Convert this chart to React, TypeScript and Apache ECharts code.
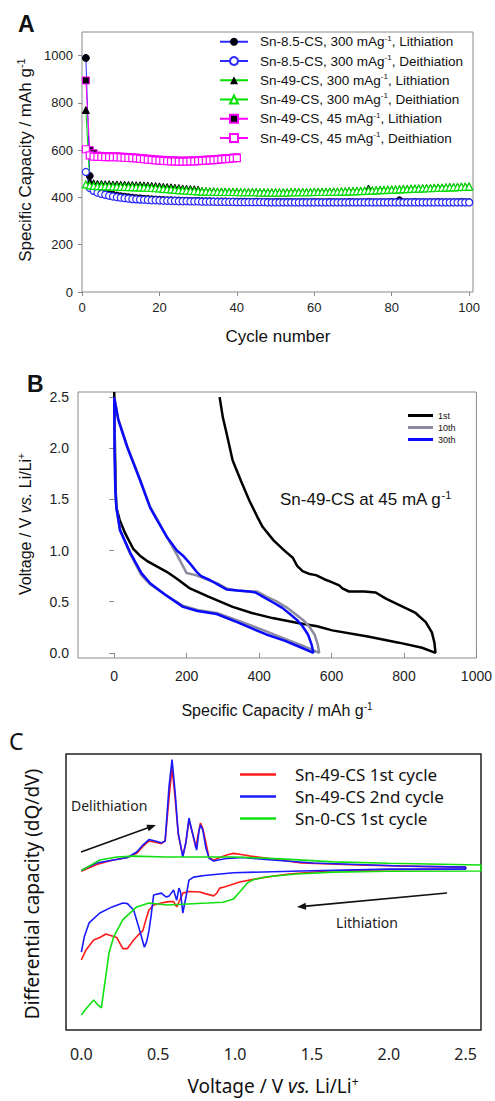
import React, { useEffect, useRef } from 'react';
import * as echarts from 'echarts';

// ---------- Panel A: cycling data (cycle index = position + 1) ----------
const aXTicks = [0, 20, 40, 60, 80, 100];
const aYTicks = [0, 200, 400, 600, 800, 1000];

const sn85Lith = [
  990, 491, 442, 430, 423, 418, 414, 411, 408, 405,
  403, 401, 399, 397, 396, 394, 393, 392, 391, 390,
  389, 388, 388, 387, 387, 386, 386, 385, 385, 385,
  384, 384, 384, 383, 383, 383, 383, 382, 382, 382,
  382, 382, 381, 381, 382, 381, 381, 381, 380, 381,
  381, 380, 381, 381, 380, 380, 381, 380, 380, 381,
  380, 380, 380, 381, 380, 380, 380, 380, 381, 380,
  380, 380, 380, 381, 380, 380, 380, 380, 380, 381,
  380, 388, 380, 380, 380, 381, 380, 380, 380, 380,
  380, 381, 380, 380, 380, 380, 380, 381, 380, 380,
];
const sn85Deli = [
  508, 440, 428, 420, 415, 411, 407, 404, 401, 399,
  397, 395, 393, 392, 391, 390, 389, 388, 388, 387,
  386, 386, 385, 385, 384, 384, 384, 383, 383, 383,
  382, 382, 382, 382, 381, 381, 381, 381, 381, 380,
  380, 380, 380, 380, 380, 380, 380, 379, 379, 379,
  379, 379, 379, 379, 379, 379, 379, 379, 379, 379,
  379, 379, 379, 379, 379, 379, 379, 379, 379, 379,
  379, 379, 379, 379, 379, 379, 379, 379, 379, 379,
  379, 379, 379, 379, 379, 379, 379, 379, 379, 379,
  379, 379, 379, 379, 379, 379, 379, 379, 379, 379,
];
const sn49Lith300 = [
  770, 465, 460, 458, 457, 456, 456, 455, 455, 454,
  454, 453, 453, 452, 452, 451, 450, 449, 448, 447,
  445, 444, 443, 441, 440, 438, 437, 436, 435, 433,
  428, 427, 426, 426, 425, 425, 425, 424, 424, 424,
  423, 423, 423, 423, 423, 422, 422, 422, 422, 422,
  422, 422, 422, 423, 423, 423, 423, 423, 423, 424,
  424, 424, 424, 425, 425, 425, 426, 426, 427, 427,
  428, 428, 429, 438, 430, 431, 432, 432, 433, 434,
  434, 435, 436, 436, 437, 438, 438, 439, 440, 440,
  441, 442, 442, 443, 444, 444, 445, 446, 446, 447,
];
const sn49Deli300 = [
  455, 451, 449, 448, 448, 447, 447, 446, 446, 445,
  445, 444, 444, 443, 443, 442, 441, 440, 439, 438,
  436, 435, 434, 432, 431, 430, 429, 428, 427, 426,
  425, 425, 424, 424, 424, 423, 423, 423, 423, 422,
  422, 422, 422, 422, 422, 421, 421, 421, 421, 421,
  421, 421, 421, 422, 422, 422, 422, 422, 422, 423,
  423, 423, 423, 424, 424, 424, 425, 425, 426, 426,
  427, 427, 428, 429, 429, 430, 431, 431, 432, 433,
  433, 434, 435, 435, 436, 437, 437, 438, 439, 439,
  440, 441, 441, 442, 443, 443, 444, 445, 445, 446,
];
const sn49Lith45 = [
  895, 600, 587, 577, 576, 575, 575, 574, 574, 573,
  572, 571, 570, 569, 567, 566, 564, 563, 561, 560,
  559, 558, 557, 557, 556, 556, 556, 557, 557, 558,
  559, 560, 561, 562, 563, 565, 566, 567, 569, 570,
];
const sn49Deli45 = [
  604, 578, 573, 572, 572, 571, 571, 570, 570, 569,
  568, 567, 566, 565, 563, 562, 560, 559, 557, 556,
  555, 554, 553, 553, 552, 552, 552, 553, 553, 554,
  555, 556, 557, 558, 559, 561, 562, 563, 565, 566,
];

// ---------- Panel B: voltage profiles [capacity mAh/g, voltage V] ----------
const bXTicks = [0, 200, 400, 600, 800, 1000];
const bYTicks = [0, 0.5, 1.0, 1.5, 2.0, 2.5];

const cycle1st = [
  [0, 2.55], [2, 2.0], [4, 1.6], [6, 1.42], [15, 1.3], [30, 1.17], [52, 1.02], [71, 0.95],
  [90, 0.9], [120, 0.84], [146, 0.79], [175, 0.72], [209, 0.63], [260, 0.55], [327, 0.45],
  [380, 0.39], [437, 0.34], [511, 0.29], [560, 0.26], [602, 0.22], [700, 0.16], [786, 0.1],
  [850, 0.05], [887, 0.0],
  [884, 0.1], [877, 0.2], [860, 0.3], [832, 0.39], [786, 0.47], [750, 0.53], [722, 0.59],
  [690, 0.6], [648, 0.6], [630, 0.63], [621, 0.66], [602, 0.69], [580, 0.72], [557, 0.76],
  [540, 0.77], [520, 0.8], [505, 0.85], [493, 0.93], [470, 1.0], [440, 1.1], [410, 1.23],
  [395, 1.33], [373, 1.49], [350, 1.68], [327, 1.88], [310, 2.15], [300, 2.3], [291, 2.5],
];
const cycle10th = [
  [0, 2.48], [1, 2.0], [3, 1.6], [6, 1.42], [16, 1.2], [44, 0.97], [75, 0.76], [99, 0.67],
  [140, 0.57], [190, 0.46], [230, 0.42], [283, 0.39], [346, 0.31], [420, 0.21], [470, 0.14],
  [520, 0.07], [566, 0.0],
  [562, 0.08], [553, 0.18], [538, 0.26], [522, 0.32], [500, 0.38], [478, 0.44], [450, 0.5],
  [420, 0.55], [395, 0.6], [370, 0.6], [340, 0.61], [310, 0.63], [285, 0.68], [255, 0.72],
  [225, 0.76], [200, 0.78], [185, 0.88], [170, 0.98], [146, 1.13], [118, 1.31], [99, 1.43],
  [70, 1.71], [36, 2.02], [11, 2.29], [0, 2.5],
];
const cycle30th = [
  [0, 2.48], [1, 2.0], [3, 1.6], [6, 1.42], [16, 1.2], [44, 0.98], [75, 0.78], [99, 0.68],
  [140, 0.57], [190, 0.45], [230, 0.41], [283, 0.38], [346, 0.29], [420, 0.18], [470, 0.12],
  [511, 0.06], [550, 0.0],
  [545, 0.08], [535, 0.18], [520, 0.26], [505, 0.32], [485, 0.38], [464, 0.44], [440, 0.49],
  [410, 0.55], [390, 0.59], [374, 0.6], [340, 0.61], [310, 0.62], [290, 0.66], [265, 0.71],
  [240, 0.75], [228, 0.79], [210, 0.87], [190, 0.95], [173, 1.0], [146, 1.13], [118, 1.3],
  [99, 1.42], [70, 1.7], [36, 2.01], [11, 2.28], [0, 2.5],
];

// ---------- Panel C: dQ/dV [voltage V, arbitrary units] ----------
const cXTicks = [0, 0.5, 1.0, 1.5, 2.0, 2.5];

const sn49First = [
  [0, 57.5], [0.04, 58.5], [0.1, 60], [0.2, 61.5], [0.3, 62.5], [0.36, 64], [0.4, 66.5],
  [0.44, 68.5], [0.48, 68], [0.52, 67.5], [0.545, 68.5], [0.57, 84], [0.59, 95], [0.61, 84],
  [0.63, 71], [0.66, 63], [0.68, 68], [0.7, 76], [0.72, 72], [0.745, 66], [0.76, 71],
  [0.775, 75], [0.79, 73], [0.81, 68], [0.83, 62.5], [0.86, 61.5], [0.9, 62.5], [0.95, 63.5],
  [0.99, 64], [1.05, 63.5], [1.1, 63], [1.2, 62.3], [1.43, 60.5], [1.8, 59.8], [2.2, 59.3],
  [2.5, 59],
  [2.5, 58.3], [2.0, 58.1], [1.6, 57.6], [1.35, 56.5], [1.18, 55.2], [1.03, 53.6], [0.97, 52.5],
  [0.93, 51.8], [0.9, 51.4], [0.88, 49.5], [0.86, 48.6], [0.8, 49.5], [0.77, 50], [0.7, 50.2],
  [0.66, 49.6], [0.64, 47], [0.62, 44.6], [0.6, 46.5], [0.57, 46.5], [0.52, 46], [0.47, 45.3],
  [0.44, 43.5], [0.42, 40], [0.4, 36], [0.37, 34.4], [0.34, 32.6], [0.3, 29.5], [0.27, 29.5],
  [0.23, 33.5], [0.16, 34.8], [0.12, 33.5], [0.08, 32.6], [0.03, 29], [0, 25.4],
];
const sn49Second = [
  [0, 57.8], [0.04, 59], [0.1, 60.5], [0.2, 61.5], [0.3, 62.5], [0.36, 64.5], [0.4, 67],
  [0.44, 69], [0.48, 68.5], [0.52, 67.8], [0.545, 68.5], [0.57, 88], [0.59, 98], [0.61, 86],
  [0.63, 71.4], [0.66, 62.7], [0.68, 68], [0.7, 76.8], [0.72, 72], [0.75, 65.2], [0.765, 72],
  [0.775, 74.3], [0.79, 72.5], [0.81, 66], [0.83, 62.3], [0.86, 61.2], [0.95, 62.2],
  [1.05, 62.5], [1.2, 61.8], [1.51, 60.5], [2.08, 59.4], [2.5, 59],
  [2.5, 58.3], [2.0, 58.3], [1.43, 57.6], [0.99, 57], [0.8, 56], [0.73, 55.4], [0.7, 54.3],
  [0.68, 48], [0.66, 42.4], [0.645, 50], [0.635, 51.4], [0.62, 47], [0.6, 50.7], [0.57, 48.5],
  [0.55, 48.2], [0.52, 49.6], [0.47, 48.9], [0.455, 42], [0.44, 36], [0.425, 32], [0.41, 30],
  [0.38, 36], [0.34, 43.5], [0.3, 45.8], [0.27, 46], [0.2, 44.6], [0.12, 42.4], [0.05, 38.8],
  [0.02, 34], [0, 28.2],
];
const sn0First = [
  [0, 57.8], [0.04, 59], [0.12, 61.6], [0.23, 62.7], [0.34, 63], [0.55, 62.7], [0.99, 62.7],
  [1.3, 62], [1.64, 60.9], [2.0, 60.4], [2.6, 59.8],
  [2.6, 57.6], [2.0, 57.5], [1.64, 57.2], [1.4, 56.5], [1.21, 55.5], [1.12, 54.5], [1.08, 53.3],
  [1.03, 50], [0.99, 47.5], [0.92, 46.3], [0.82, 46], [0.56, 45.3], [0.44, 46], [0.36, 44.6],
  [0.27, 40], [0.21, 33.7], [0.18, 28], [0.155, 18], [0.13, 8], [0.1, 9.5], [0.08, 10.9],
  [0.05, 9], [0.02, 7], [0, 5.4],
];

const ARIAL = 'Liberation Sans, Arial, sans-serif';
const NOTO = 'Noto Sans, sans-serif';

const legendA = [
  { name: 'Sn-8.5-CS, 300 mAg-1, Lithiation', pre: 'Sn-8.5-CS, 300 mAg', post: ', Lithiation' },
  { name: 'Sn-8.5-CS, 300 mAg-1, Deithiation', pre: 'Sn-8.5-CS, 300 mAg', post: ', Deithiation' },
  { name: 'Sn-49-CS, 300 mAg-1, Lithiation', pre: 'Sn-49-CS, 300 mAg', post: ', Lithiation' },
  { name: 'Sn-49-CS, 300 mAg-1, Deithiation', pre: 'Sn-49-CS, 300 mAg', post: ', Deithiation' },
  { name: 'Sn-49-CS, 45 mAg-1, Lithiation', pre: 'Sn-49-CS, 45 mAg', post: ', Lithiation' },
  { name: 'Sn-49-CS, 45 mAg-1, Deithiation', pre: 'Sn-49-CS, 45 mAg', post: ', Deithiation' },
];

const toPairs = (arr: number[]) => arr.map((v, i) => [i + 1, v]);

function arrow(x1: number, y1: number, x2: number, y2: number) {
  const dx = x2 - x1, dy = y2 - y1;
  const L = Math.hypot(dx, dy);
  const ux = dx / L, uy = dy / L;
  const nx = -uy, ny = ux;
  const bx = x2 - ux * 9, by = y2 - uy * 9;
  return [
    { type: 'line', shape: { x1, y1, x2: x2 - ux * 4, y2: y2 - uy * 4 }, style: { stroke: '#111', lineWidth: 1.6 } },
    {
      type: 'polygon',
      shape: { points: [[x2, y2], [bx + nx * 3.5, by + ny * 3.5], [bx - nx * 3.5, by - ny * 3.5]] },
      style: { fill: '#111' },
    },
  ];
}

function txt(x: number, y: number, text: string, opts: any = {}) {
  return {
    type: 'text',
    x,
    y,
    rotation: opts.rotation || 0,
    style: {
      text,
      fill: opts.color || '#111',
      fontSize: opts.fontSize || 16,
      fontFamily: opts.fontFamily || ARIAL,
      fontWeight: opts.fontWeight || 'normal',
      align: opts.align || 'center',
      verticalAlign: 'middle',
      rich: opts.rich,
    },
  };
}

function richSup(size: number, family: string) {
  return {
    a: { fontSize: size, fontFamily: family, color: '#111', lineHeight: size + 2 },
    i: { fontSize: size, fontFamily: family, fontStyle: 'italic', color: '#111', lineHeight: size + 2 },
    s: { fontSize: Math.round(size * 0.62), fontFamily: family, color: '#111', verticalAlign: 'top', lineHeight: Math.round(size * 0.7) },
  };
}

const plain = (v: number) => String(v);

export default function App() {
  const ref = useRef<HTMLDivElement>(null);
  useEffect(() => {
    const chart = echarts.init(ref.current!, null, { renderer: 'svg' });
    const tickLabel = { color: '#222', fontSize: 13, fontFamily: ARIAL };
    const option: any = {
      animation: false,
      backgroundColor: '#fff',
      grid: [
        { left: 82, top: 32, width: 391, height: 260, show: true, borderColor: '#8a8a8a', borderWidth: 1 },
        { left: 78, top: 392, width: 400, height: 266, show: true, borderColor: '#8a8a8a', borderWidth: 1 },
        { left: 66, top: 754, width: 415, height: 276, show: true, borderColor: '#222', borderWidth: 1.5 },
      ],
      xAxis: [
        {
          gridIndex: 0, type: 'value', min: 0, max: 101,
          axisLine: { show: false }, splitLine: { show: false },
          axisTick: { show: true, length: 4, lineStyle: { color: '#8a8a8a' }, customValues: aXTicks },
          axisLabel: { ...tickLabel, margin: 9, customValues: aXTicks, formatter: plain },
        },
        {
          gridIndex: 1, type: 'value', min: -100, max: 1000,
          axisLine: { show: false }, splitLine: { show: false },
          axisTick: { show: true, length: 5, lineStyle: { color: '#8a8a8a' }, customValues: bXTicks },
          axisLabel: { ...tickLabel, fontSize: 14, margin: 11, customValues: bXTicks, formatter: plain },
        },
        {
          gridIndex: 2, type: 'value', min: -0.1, max: 2.6,
          axisLine: { show: false }, splitLine: { show: false },
          axisTick: { show: false, customValues: cXTicks },
          axisLabel: { color: '#222', fontSize: 16, fontFamily: NOTO, margin: 16, customValues: cXTicks, formatter: (v: number) => v.toFixed(1) },
        },
      ],
      yAxis: [
        {
          gridIndex: 0, type: 'value', min: 0, max: 1100,
          axisLine: { show: false }, splitLine: { show: false },
          axisTick: { show: true, length: 4, lineStyle: { color: '#8a8a8a' }, customValues: aYTicks },
          axisLabel: { ...tickLabel, margin: 9, customValues: aYTicks, formatter: plain },
        },
        {
          gridIndex: 1, type: 'value', min: -0.05, max: 2.55,
          axisLine: { show: false }, splitLine: { show: false },
          axisTick: { show: true, length: 5, lineStyle: { color: '#8a8a8a' }, customValues: bYTicks },
          axisLabel: { ...tickLabel, fontSize: 14, margin: 9, customValues: bYTicks, formatter: (v: number) => v.toFixed(1) },
        },
        {
          gridIndex: 2, type: 'value', min: 0, max: 100,
          axisLine: { show: false }, splitLine: { show: false },
          axisTick: { show: false }, axisLabel: { show: false },
        },
      ],
      legend: [
        {
          orient: 'vertical', left: 214, top: 29, itemWidth: 28, itemHeight: 10, itemGap: 4.5,
          data: legendA.map((l) => l.name),
          formatter: (name: string) => {
            const l = legendA.find((x) => x.name === name)!;
            return `{a|${l.pre}}{s|-1}{a|${l.post}}`;
          },
          textStyle: { padding: [0, 0, 0, 7], rich: richSup(13.5, ARIAL) },
        },
        {
          orient: 'vertical', left: 403, top: 406, itemWidth: 25, itemHeight: 3, itemGap: 3,
          icon: 'rect',
          data: ['1st', '10th', '30th'],
          textStyle: { fontSize: 9, fontFamily: ARIAL, color: '#111' },
        },
        {
          orient: 'vertical', left: 235, top: 761, itemWidth: 36, itemHeight: 2.5, itemGap: 5,
          icon: 'rect',
          data: ['Sn-49-CS 1st cycle', 'Sn-49-CS 2nd cycle', 'Sn-0-CS 1st cycle'],
          textStyle: { fontSize: 17, fontFamily: NOTO, color: '#111', padding: [0, 0, 0, 14] },
        },
      ],
      series: [
        {
          name: legendA[0].name, type: 'line', xAxisIndex: 0, yAxisIndex: 0, data: toPairs(sn85Lith),
          symbol: 'circle', symbolSize: 7, lineStyle: { color: '#2a2aff', width: 1 },
          itemStyle: { color: '#000010', borderColor: '#000010' },
        },
        {
          name: legendA[1].name, type: 'line', xAxisIndex: 0, yAxisIndex: 0, data: toPairs(sn85Deli),
          symbol: 'circle', symbolSize: 7, lineStyle: { color: '#2a2aff', width: 1 },
          itemStyle: { color: '#ffffff', borderColor: '#2a2aff', borderWidth: 1.2 },
        },
        {
          name: legendA[2].name, type: 'line', xAxisIndex: 0, yAxisIndex: 0, data: toPairs(sn49Lith300),
          symbol: 'triangle', symbolSize: 7, lineStyle: { color: '#00e000', width: 1 },
          itemStyle: { color: '#000000', borderColor: '#000000' },
        },
        {
          name: legendA[3].name, type: 'line', xAxisIndex: 0, yAxisIndex: 0, data: toPairs(sn49Deli300),
          symbol: 'triangle', symbolSize: 7, lineStyle: { color: '#00e000', width: 1 },
          itemStyle: { color: '#ffffff', borderColor: '#00e000', borderWidth: 1.2 },
        },
        {
          name: legendA[4].name, type: 'line', xAxisIndex: 0, yAxisIndex: 0, data: toPairs(sn49Lith45),
          symbol: 'rect', symbolSize: 7, lineStyle: { color: '#ff00ff', width: 1 },
          itemStyle: { color: '#000000', borderColor: '#ff00ff', borderWidth: 1 },
        },
        {
          name: legendA[5].name, type: 'line', xAxisIndex: 0, yAxisIndex: 0, data: toPairs(sn49Deli45),
          symbol: 'rect', symbolSize: 7, lineStyle: { color: '#ff00ff', width: 1 },
          itemStyle: { color: '#ffffff', borderColor: '#ff00ff', borderWidth: 1.2 },
        },
        {
          name: '1st', type: 'line', xAxisIndex: 1, yAxisIndex: 1, data: cycle1st, symbol: 'none',
          lineStyle: { color: '#000000', width: 2.5 }, itemStyle: { color: '#000000' },
        },
        {
          name: '10th', type: 'line', xAxisIndex: 1, yAxisIndex: 1, data: cycle10th, symbol: 'none',
          lineStyle: { color: '#8c8ca0', width: 2.5 }, itemStyle: { color: '#8c8ca0' },
        },
        {
          name: '30th', type: 'line', xAxisIndex: 1, yAxisIndex: 1, data: cycle30th, symbol: 'none',
          lineStyle: { color: '#0a0aff', width: 2.5 }, itemStyle: { color: '#0a0aff' },
        },
        {
          name: 'Sn-49-CS 1st cycle', type: 'line', xAxisIndex: 2, yAxisIndex: 2, data: sn49First, symbol: 'none',
          lineStyle: { color: '#ff1a1a', width: 1.6 }, itemStyle: { color: '#ff1a1a' },
        },
        {
          name: 'Sn-49-CS 2nd cycle', type: 'line', xAxisIndex: 2, yAxisIndex: 2, data: sn49Second, symbol: 'none',
          lineStyle: { color: '#1a1aff', width: 1.6 }, itemStyle: { color: '#1a1aff' },
        },
        {
          name: 'Sn-0-CS 1st cycle', type: 'line', xAxisIndex: 2, yAxisIndex: 2, data: sn0First, symbol: 'none',
          lineStyle: { color: '#10e010', width: 1.6 }, itemStyle: { color: '#10e010' },
        },
      ],
      graphic: [
        txt(18, 24, 'A', { fontSize: 23, fontWeight: 'bold', align: 'left' }),
        txt(27, 384, 'B', { fontSize: 23, fontWeight: 'bold', align: 'left' }),
        txt(9, 741, 'C', { fontSize: 23, fontFamily: NOTO, align: 'left' }),
        txt(25, 160, '{a|Specific Capacity / mAh g}{s|-1}', { rotation: Math.PI / 2, rich: richSup(17, ARIAL) }),
        txt(278, 336, 'Cycle number', { fontSize: 17 }),
        txt(25, 524, '{a|Voltage / V }{i|vs.}{a| Li/Li}{s|+}', { rotation: Math.PI / 2, rich: richSup(16, ARIAL) }),
        txt(277, 710, '{a|Specific Capacity / mAh g}{s|-1}', { rich: richSup(16, ARIAL) }),
        txt(280, 499, '{a|Sn-49-CS at 45 mA g}{s|-1}', { align: 'left', rich: richSup(17, ARIAL) }),
        txt(32, 894, 'Differential capacity (dQ/dV)', { rotation: Math.PI / 2, fontSize: 19, fontFamily: NOTO }),
        txt(273, 1086, '{a|Voltage / V }{i|vs.}{a| Li/Li}{s|+}', { rich: richSup(19, NOTO) }),
        txt(71, 805, 'Delithiation', { align: 'left', fontSize: 14, fontFamily: NOTO, color: '#222' }),
        txt(367, 922, 'Lithiation', { fontSize: 14, fontFamily: NOTO, color: '#222' }),
        ...arrow(81, 852, 156, 825),
        ...arrow(447, 893, 297, 907),
      ],
    };
    chart.setOption(option);
    return () => chart.dispose();
  }, []);
  return <div ref={ref} style={{ position: 'absolute', left: 0, top: 0, width: 495, height: 1101 }} />;
}
